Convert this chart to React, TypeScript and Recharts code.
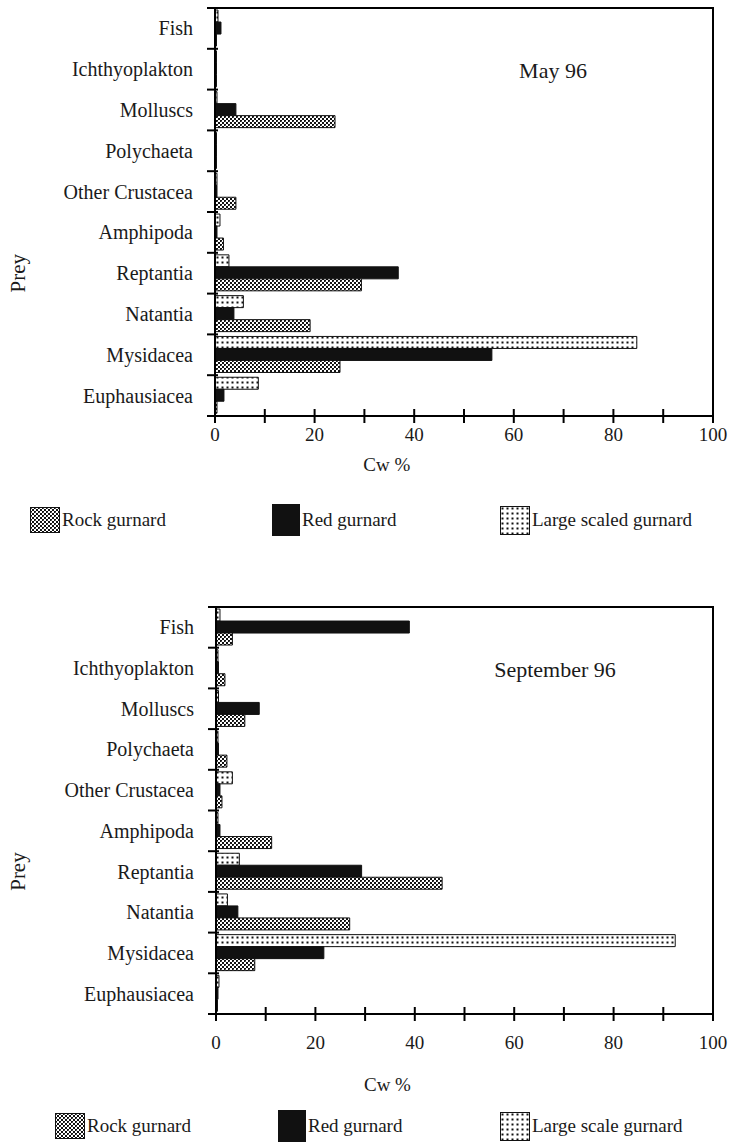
import React from 'react';
import { BarChart, Bar, XAxis, YAxis, ReferenceArea, Legend } from 'recharts';

const categories = ['Fish', 'Ichthyoplakton', 'Molluscs', 'Polychaeta', 'Other Crustacea', 'Amphipoda', 'Reptantia', 'Natantia', 'Mysidacea', 'Euphausiacea'];
const xTicks = [0, 10, 20, 30, 40, 50, 60, 70, 80, 90, 100];

// May 96
const mayRock = [0.3, 0.3, 24.1, 0.3, 4.2, 1.7, 29.4, 19.1, 25.1, 0.4];
const mayRed = [1.2, 0.3, 4.2, 0.3, 0.4, 0.4, 36.8, 3.8, 55.6, 1.8];
const mayLarge = [0.6, 0.3, 0.4, 0.3, 0.4, 1.0, 2.8, 5.7, 84.7, 8.7];

// September 96
const sepRock = [3.3, 1.8, 5.8, 2.2, 1.2, 11.2, 45.5, 26.9, 7.8, 0.3];
const sepRed = [38.9, 0.5, 8.7, 0.5, 0.8, 0.8, 29.3, 4.4, 21.7, 0.4];
const sepLarge = [0.8, 0.4, 0.5, 0.4, 3.3, 0.4, 4.7, 2.3, 92.4, 0.6];

const mayLegend = ['Rock gurnard', 'Red gurnard', 'Large scaled gurnard'];
const sepLegend = ['Rock gurnard', 'Red gurnard', 'Large scale gurnard'];

const FONT = '"Liberation Serif", "Times New Roman", serif';
const INK = '#1a1a1a';

function buildData(rock: number[], red: number[], large: number[]) {
  return categories.map((c, i) => ({ prey: c, rock: rock[i], red: red[i], large: large[i] }));
}

const Patterns = () => (
  <svg width={0} height={0} style={{ position: 'absolute' }}>
    <defs>
      <pattern id="rockPat" width={4} height={4} patternUnits="userSpaceOnUse">
        <rect width={4} height={4} fill="#fff" />
        <rect x={0} y={0} width={2} height={2} fill="#111" />
        <rect x={2} y={2} width={2} height={2} fill="#111" />
        <rect x={1} y={1} width={1} height={1} fill="#555" />
      </pattern>
      <pattern id="dotPat" width={5} height={5} patternUnits="userSpaceOnUse">
        <rect width={5} height={5} fill="#fff" />
        <rect x={1.5} y={1.5} width={2} height={2} fill="#111" />
      </pattern>
    </defs>
  </svg>
);

const Swatch = ({ kind, w, h }: { kind: string; w: number; h: number }) => (
  <svg width={w} height={h} style={{ display: 'block' }}>
    <rect x={0.5} y={0.5} width={w - 1} height={h - 1}
      fill={kind === 'rock' ? 'url(#rockPat)' : kind === 'red' ? '#111' : 'url(#dotPat)'}
      stroke="#111" strokeWidth={1} />
  </svg>
);

type PanelProps = {
  top: number;
  height: number;
  plotTop: number;
  plotBottom: number;
  plotLeft: number;
  rock: number[];
  red: number[];
  large: number[];
  title: string;
  titleX: number;
  titleY: number;
  tickGap: number;
  labelY: number;
  legendTop: number;
  legendLabels: string[];
  legendPos: number[];
};

const Panel = (p: PanelProps) => {
  const data = buildData(p.rock, p.red, p.large);
  const plotH = p.plotBottom - p.plotTop;
  const half = plotH / categories.length / 2;
  const xAxisH = 40;
  const marginBottom = p.height - p.plotBottom - xAxisH;
  const yAxisW = p.plotLeft - 10;

  const YTick = (props: any) => {
    const { x, y, payload, index } = props;
    const ax = x + 22;
    return (
      <g>
        <text x={x} y={y} dy="0.35em" textAnchor="end" fontFamily={FONT} fontSize={20} fill={INK}>{payload.value}</text>
        <line x1={ax - 8} x2={ax + 3} y1={y + half} y2={y + half} stroke="#000" strokeWidth={2} />
        {index === 0 ? <line x1={ax - 8} x2={ax + 3} y1={y - half} y2={y - half} stroke="#000" strokeWidth={2} /> : null}
      </g>
    );
  };

  const XTick = (props: any) => {
    const { x, y, payload } = props;
    return (
      <g>
        <line x1={x} x2={x} y1={y - 7} y2={y + 7} stroke="#000" strokeWidth={2} />
        {payload.value % 20 === 0 ? (
          <text x={x} y={y + p.tickGap} textAnchor="middle" fontFamily={FONT} fontSize={19} fill={INK}>{payload.value}</text>
        ) : null}
      </g>
    );
  };

  const kinds = ['rock', 'red', 'large'];
  const sw = [{ w: 30, h: 26 }, { w: 28, h: 32 }, { w: 30, h: 29 }];

  return (
    <div style={{ position: 'absolute', left: 0, top: p.top, width: 730, height: p.height }}>
      <BarChart
        width={730}
        height={p.height}
        data={data}
        layout="vertical"
        margin={{ top: p.plotTop, right: 17, bottom: marginBottom, left: 10 }}
        barCategoryGap="5%"
        barGap={0}
      >
        <XAxis
          type="number"
          domain={[0, 100]}
          ticks={xTicks}
          interval={0}
          height={xAxisH}
          tickSize={0}
          tickMargin={0}
          tickLine={false}
          axisLine={{ stroke: '#000', strokeWidth: 2 }}
          tick={<XTick />}
          label={{
            content: (lp: any) => {
              const vb = lp.viewBox;
              return (
                <text x={vb.x + vb.width * 0.345} y={p.labelY} textAnchor="middle" fontFamily={FONT} fontSize={19} fill={INK}>Cw %</text>
              );
            },
          }}
        />
        <YAxis
          type="category"
          dataKey="prey"
          width={yAxisW}
          interval={0}
          tickSize={0}
          tickMargin={22}
          tickLine={false}
          axisLine={{ stroke: '#000', strokeWidth: 2 }}
          tick={<YTick />}
          label={{
            content: (lp: any) => {
              const vb = lp.viewBox;
              const cx = 18;
              const cy = vb.y + vb.height * 0.65;
              return (
                <text x={cx} y={cy} textAnchor="middle" dominantBaseline="central" transform={`rotate(-90 ${cx} ${cy})`} fontFamily={FONT} fontSize={21} fill={INK}>Prey</text>
              );
            },
          }}
        />
        <ReferenceArea x1={0} x2={100} fill="none" stroke="#000" strokeWidth={2} ifOverflow="visible" />
        <Bar dataKey="large" name={p.legendLabels[2]} fill="url(#dotPat)" stroke="#111" strokeWidth={1} isAnimationActive={false} />
        <Bar dataKey="red" name={p.legendLabels[1]} fill="#111" stroke="#111" strokeWidth={1} isAnimationActive={false} />
        <Bar dataKey="rock" name={p.legendLabels[0]} fill="url(#rockPat)" stroke="#111" strokeWidth={1} isAnimationActive={false} />
        <Legend
          layout="horizontal"
          verticalAlign="middle"
          align="center"
          wrapperStyle={{ top: p.legendTop, left: 0, width: 730, height: 40 }}
          content={() => (
            <div style={{ position: 'relative', width: 730, height: 40 }}>
              {kinds.map((k, i) => (
                <div key={k} style={{ position: 'absolute', left: p.legendPos[i], top: 0, height: 40, display: 'flex', alignItems: 'center' }}>
                  <Swatch kind={k} w={sw[i].w} h={sw[i].h} />
                  <span style={{ fontFamily: FONT, fontSize: 19, color: INK, marginLeft: 2, whiteSpace: 'nowrap' }}>{p.legendLabels[i]}</span>
                </div>
              ))}
            </div>
          )}
        />
      </BarChart>
      <div style={{ position: 'absolute', left: p.titleX - 100, width: 200, top: p.titleY, textAlign: 'center', fontFamily: FONT, fontSize: 22, color: INK, lineHeight: '24px' }}>
        {p.title}
      </div>
    </div>
  );
};

export default function App() {
  return (
    <div style={{ position: 'absolute', left: 0, top: 0, width: 730, height: 1142, background: '#fff', overflow: 'hidden' }}>
      <Patterns />
      <Panel
        top={0}
        height={560}
        plotTop={8}
        plotBottom={416}
        plotLeft={215}
        rock={mayRock}
        red={mayRed}
        large={mayLarge}
        title="May 96"
        titleX={553}
        titleY={59}
        tickGap={25}
        labelY={471}
        legendTop={500}
        legendLabels={mayLegend}
        legendPos={[30, 272, 500]}
      />
      <Panel
        top={560}
        height={582}
        plotTop={47}
        plotBottom={454}
        plotLeft={216}
        rock={sepRock}
        red={sepRed}
        large={sepLarge}
        title="September 96"
        titleX={555}
        titleY={98}
        tickGap={35}
        labelY={531}
        legendTop={546}
        legendLabels={sepLegend}
        legendPos={[55, 278, 500]}
      />
    </div>
  );
}
